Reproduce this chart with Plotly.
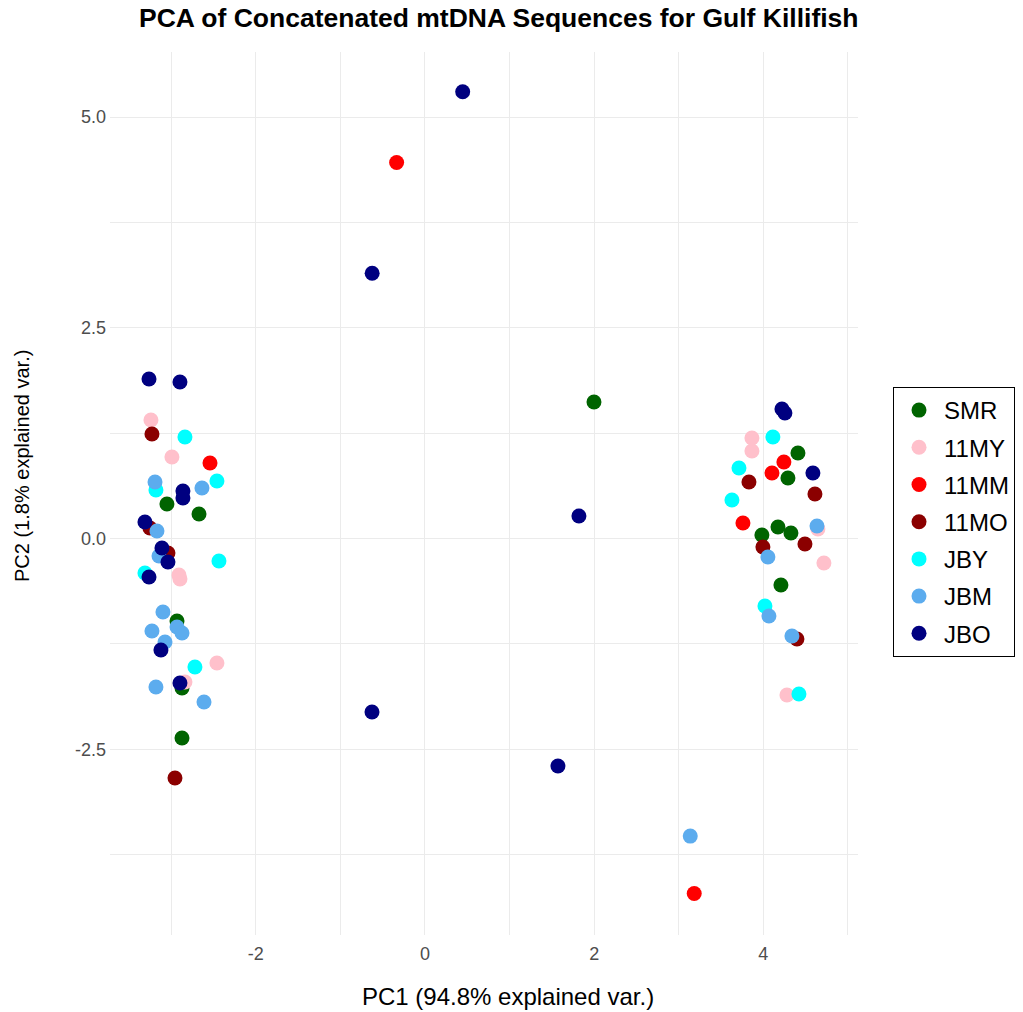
import plotly.graph_objects as go

# PCA scores (PC1, PC2) per population
groups = ["SMR", "11MY", "11MM", "11MO", "JBY", "JBM", "JBO"]
colors = ["#006400", "#FFC0CB", "#FF0000", "#8B0000", "#00FFFF", "#5CACEE", "#000080"]

smr_x = [-3.050, -2.671, -2.931, -2.872, -2.872, 4.409, 4.291, 4.173, 4.326, 3.983, 4.208, 1.998]
smr_y = [0.409, 0.291, -0.979, -1.773, -2.366, 1.014, 0.718, 0.137, 0.065, 0.042, -0.552, 1.619]

my11_x = [-3.239, -2.991, -2.908, -2.896, -2.459, -2.837, 3.865, 3.865, 4.645, 4.716, 4.279]
my11_y = [1.406, 0.967, -0.433, -0.480, -1.477, -1.702, 1.192, 1.038, 0.113, -0.290, -1.857]

mm11_x = [-2.541, 4.243, 4.102, 3.759, -0.335, 3.183]
mm11_y = [0.896, 0.907, 0.777, 0.184, 4.460, -4.210]

mo11_x = [-3.227, -3.251, -3.038, -2.955, 3.830, 4.610, 4.492, 3.995, 4.397]
mo11_y = [1.240, 0.125, -0.172, -2.841, 0.670, 0.528, -0.065, -0.100, -1.192]

jby_x = [-2.837, -2.459, -3.180, -2.435, -3.310, -2.719, 4.113, 3.712, 3.629, 4.019, 4.421]
jby_y = [1.204, 0.682, 0.575, -0.267, -0.409, -1.524, 1.204, 0.836, 0.457, -0.801, -1.845]

jbm_x = [-3.191, -2.636, -3.168, -3.144, -3.097, -3.227, -2.931, -2.872, -3.073, -3.180, -2.612,
         4.634, 4.054, 4.066, 4.338, 3.136]
jbm_y = [0.670, 0.599, 0.089, -0.208, -0.872, -1.097, -1.050, -1.121, -1.228, -1.762, -1.940,
         0.148, -0.219, -0.919, -1.157, -3.530]

jbo_x = [-3.262, -2.896, -2.861, -2.861, -3.310, -3.109, -3.038, -3.262, -3.121, -2.896,
         4.220, 4.255, 4.586, 0.446, -0.624, 1.820, -0.626, 1.572]
jbo_y = [1.892, 1.857, 0.563, 0.480, 0.196, -0.113, -0.279, -0.457, -1.323, -1.714,
         1.536, 1.489, 0.777, 5.300, 3.146, 0.267, -2.058, -2.699]

xs = [smr_x, my11_x, mm11_x, mo11_x, jby_x, jbm_x, jbo_x]
ys = [smr_y, my11_y, mm11_y, mo11_y, jby_y, jbm_y, jbo_y]

x_ticks = [-2, 0, 2, 4]
y_ticks = [-2.5, 0.0, 2.5, 5.0]
y_tick_text = ["-2.5", "0.0", "2.5", "5.0"]

FONT = "Arial, Liberation Sans, sans-serif"
W, H = 1023, 1012
# panel box in pixels
PL, PR, PT, PB = 110, 858, 52, 935


def px(x):
    return (x - PL) / (PR - PL)


def py(y):
    return (PB - y) / (PB - PT)


fig = go.Figure()
for name, col, gx, gy in zip(groups, colors, xs, ys):
    fig.add_trace(go.Scatter(
        x=gx, y=gy, mode="markers", name=name, legendgroup=name,
        marker=dict(color=col, size=15, line=dict(width=0)),
    ))

grid = "#EBEBEB"
fig.update_layout(
    width=W, height=H,
    margin=dict(l=PL, r=W - PR, t=PT, b=H - PB, autoexpand=False),
    paper_bgcolor="white", plot_bgcolor="white",
    font=dict(family=FONT, color="black"),
    showlegend=True,
    legend=dict(
        x=px(893), y=py(387), xref="paper", yref="paper",
        xanchor="left", yanchor="top",
        bordercolor="black", borderwidth=1,
        font=dict(size=24, color="black", family=FONT),
        tracegroupgap=3, itemsizing="trace", itemwidth=40,
    ),
    xaxis=dict(
        range=[-3.723, 5.119], tickvals=x_ticks, ticktext=[str(v) for v in x_ticks],
        showgrid=True, gridcolor=grid, gridwidth=1.2,
        minor=dict(tickvals=[-3, -1, 1, 3, 5], showgrid=True, gridcolor=grid, gridwidth=0.8),
        zeroline=False, showline=False, ticks="", ticklabelstandoff=6,
        tickfont=dict(size=18, color="#4D4D4D"), automargin=False,
    ),
    yaxis=dict(
        range=[-4.703, 5.771], tickvals=y_ticks, ticktext=y_tick_text,
        showgrid=True, gridcolor=grid, gridwidth=1.2,
        minor=dict(tickvals=[-3.75, -1.25, 1.25, 3.75], showgrid=True, gridcolor=grid, gridwidth=0.8),
        zeroline=False, showline=False, ticks="", ticklabelstandoff=3,
        tickfont=dict(size=18, color="#4D4D4D"), automargin=False,
    ),
    annotations=[
        dict(text="<b>PCA of Concatenated mtDNA Sequences for Gulf Killifish</b>",
             x=px(499), y=py(18), xref="paper", yref="paper",
             xanchor="center", yanchor="middle", showarrow=False,
             font=dict(size=26.5, color="black", family=FONT)),
        dict(text="PC1 (94.8% explained var.)",
             x=px(508), y=py(997), xref="paper", yref="paper",
             xanchor="center", yanchor="middle", showarrow=False,
             font=dict(size=24, color="black", family=FONT)),
        dict(text="PC2 (1.8% explained var.)",
             x=px(22), y=py(466), xref="paper", yref="paper",
             xanchor="center", yanchor="middle", showarrow=False, textangle=-90,
             font=dict(size=20, color="black", family=FONT)),
    ],
)

fig.write_html("out.html")
